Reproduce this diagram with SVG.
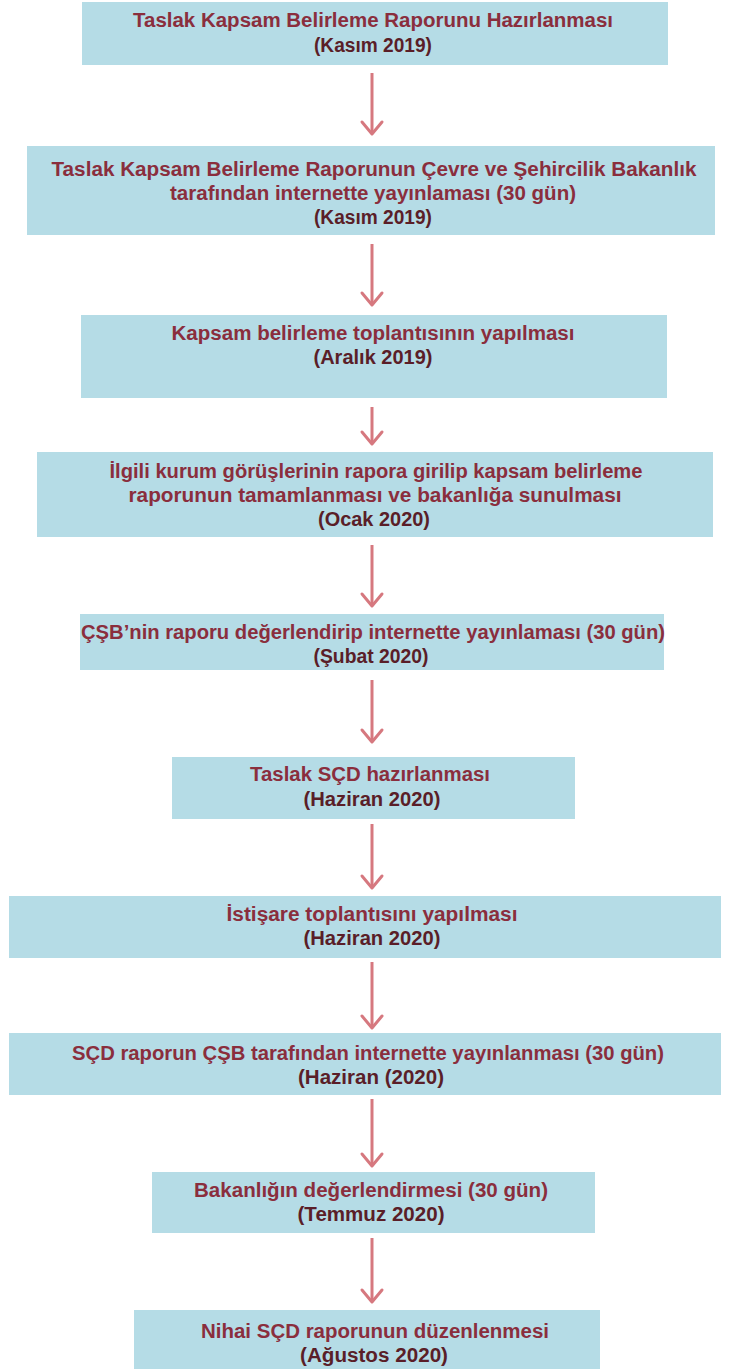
<svg xmlns="http://www.w3.org/2000/svg" width="731" height="1369" viewBox="0 0 731 1369">
<style>
.box{fill:#b5dce6;}
.t{font-family:"Liberation Sans",Arial,sans-serif;font-weight:bold;font-size:20px;fill:#8a2e3d;text-anchor:middle;}
.d{fill:#5a1e28;}
.arr{stroke:#d6787f;stroke-width:3;fill:none;}
.head{stroke:#d6787f;stroke-width:3;fill:none;stroke-linecap:round;stroke-linejoin:round;}
</style>
<rect width="731" height="1369" fill="#ffffff"/>
<g id="connectors">
<g><line class="arr" x1="372" y1="73" x2="372" y2="134"/><polyline class="head" points="362,122 372,134 382,122"/></g>
<g><line class="arr" x1="372" y1="244" x2="372" y2="305"/><polyline class="head" points="362,293 372,305 382,293"/></g>
<g><line class="arr" x1="372" y1="407" x2="372" y2="444"/><polyline class="head" points="362,432 372,444 382,432"/></g>
<g><line class="arr" x1="372" y1="545" x2="372" y2="606"/><polyline class="head" points="362,594 372,606 382,594"/></g>
<g><line class="arr" x1="372" y1="680" x2="372" y2="742"/><polyline class="head" points="362,730 372,742 382,730"/></g>
<g><line class="arr" x1="372" y1="824" x2="372" y2="888"/><polyline class="head" points="362,876 372,888 382,876"/></g>
<g><line class="arr" x1="372" y1="962" x2="372" y2="1028"/><polyline class="head" points="362,1016 372,1028 382,1016"/></g>
<g><line class="arr" x1="372" y1="1099" x2="372" y2="1166"/><polyline class="head" points="362,1154 372,1166 382,1154"/></g>
<g><line class="arr" x1="372" y1="1238" x2="372" y2="1302"/><polyline class="head" points="362,1290 372,1302 382,1290"/></g>
</g>
<g id="n1">
<rect class="box" x="82" y="2" width="586" height="63"/>
<text class="t" x="373" y="27" textLength="480" lengthAdjust="spacingAndGlyphs">Taslak Kapsam Belirleme Raporunu Hazırlanması</text>
<text class="t d" x="373" y="52" textLength="118" lengthAdjust="spacingAndGlyphs">(Kasım 2019)</text>
</g>
<g id="n2">
<rect class="box" x="27" y="146" width="688" height="89"/>
<text class="t" x="374" y="176" textLength="645" lengthAdjust="spacingAndGlyphs">Taslak Kapsam Belirleme Raporunun Çevre ve Şehircilik Bakanlık</text>
<text class="t" x="373" y="200" textLength="406" lengthAdjust="spacingAndGlyphs">tarafından internette yayınlaması (30 gün)</text>
<text class="t d" x="373" y="224" textLength="118" lengthAdjust="spacingAndGlyphs">(Kasım 2019)</text>
</g>
<g id="n3">
<rect class="box" x="81" y="315" width="586" height="83"/>
<text class="t" x="373" y="340" textLength="403" lengthAdjust="spacingAndGlyphs">Kapsam belirleme toplantısının yapılması</text>
<text class="t d" x="373" y="364" textLength="119" lengthAdjust="spacingAndGlyphs">(Aralık 2019)</text>
</g>
<g id="n4">
<rect class="box" x="37" y="452" width="676" height="85"/>
<text class="t" x="376" y="478" textLength="533" lengthAdjust="spacingAndGlyphs">İlgili kurum görüşlerinin rapora girilip kapsam belirleme</text>
<text class="t" x="375" y="502" textLength="493" lengthAdjust="spacingAndGlyphs">raporunun tamamlanması ve bakanlığa sunulması</text>
<text class="t d" x="374" y="526" textLength="112" lengthAdjust="spacingAndGlyphs">(Ocak 2020)</text>
</g>
<g id="n5">
<rect class="box" x="80" y="614" width="584" height="56"/>
<text class="t" x="373" y="639" textLength="584" lengthAdjust="spacingAndGlyphs">ÇŞB’nin raporu değerlendirip internette yayınlaması (30 gün)</text>
<text class="t d" x="371" y="663" textLength="115" lengthAdjust="spacingAndGlyphs">(Şubat 2020)</text>
</g>
<g id="n6">
<rect class="box" x="172" y="757" width="403" height="62"/>
<text class="t" x="370" y="781" textLength="240" lengthAdjust="spacingAndGlyphs">Taslak SÇD hazırlanması</text>
<text class="t d" x="372" y="806" textLength="137" lengthAdjust="spacingAndGlyphs">(Haziran 2020)</text>
</g>
<g id="n7">
<rect class="box" x="9" y="896" width="712" height="62"/>
<text class="t" x="372" y="921" textLength="291" lengthAdjust="spacingAndGlyphs">İstişare toplantısını yapılması</text>
<text class="t d" x="372" y="945" textLength="137" lengthAdjust="spacingAndGlyphs">(Haziran 2020)</text>
</g>
<g id="n8">
<rect class="box" x="9" y="1033" width="712" height="62"/>
<text class="t" x="368" y="1060" textLength="592" lengthAdjust="spacingAndGlyphs">SÇD raporun ÇŞB tarafından internette yayınlanması (30 gün)</text>
<text class="t d" x="371" y="1084" textLength="146" lengthAdjust="spacingAndGlyphs">(Haziran (2020)</text>
</g>
<g id="n9">
<rect class="box" x="152" y="1172" width="443" height="61"/>
<text class="t" x="371" y="1197" textLength="354" lengthAdjust="spacingAndGlyphs">Bakanlığın değerlendirmesi (30 gün)</text>
<text class="t d" x="371" y="1221" textLength="147" lengthAdjust="spacingAndGlyphs">(Temmuz 2020)</text>
</g>
<g id="n10">
<rect class="box" x="134" y="1310" width="466" height="59"/>
<text class="t" x="375" y="1338" textLength="348" lengthAdjust="spacingAndGlyphs">Nihai SÇD raporunun düzenlenmesi</text>
<text class="t d" x="374" y="1362" textLength="148" lengthAdjust="spacingAndGlyphs">(Ağustos 2020)</text>
</g>
</svg>
